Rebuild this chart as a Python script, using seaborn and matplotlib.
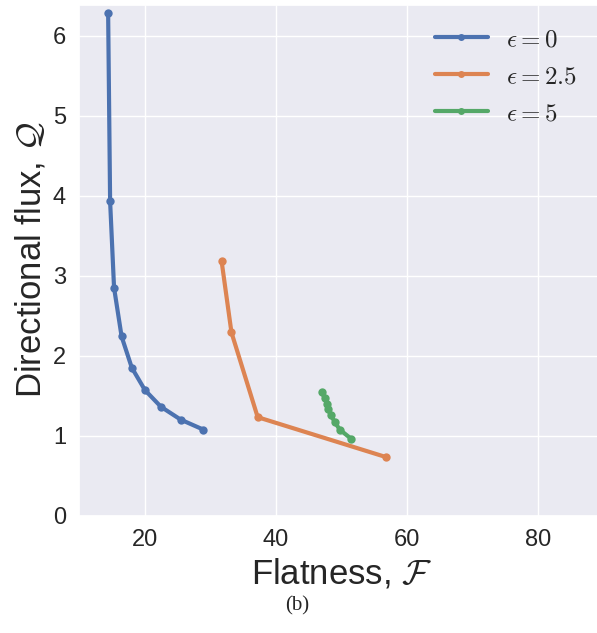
import pandas as pd
import seaborn as sns
import matplotlib
matplotlib.use("Agg")
import matplotlib.pyplot as plt

# values
flat_eps0 = [14.4, 14.7, 15.3, 16.45, 18.0, 20.0, 22.45, 25.45, 28.9]
flux_eps0 = [6.28, 3.93, 2.85, 2.24, 1.85, 1.57, 1.36, 1.20, 1.075]

flat_eps25 = [31.7, 33.2, 37.2, 56.8]
flux_eps25 = [3.18, 2.29, 1.23, 0.73]

flat_eps5 = [47.0, 47.4, 47.7, 47.95, 48.3, 48.95, 49.7, 51.45]
flux_eps5 = [1.54, 1.47, 1.40, 1.33, 1.26, 1.17, 1.075, 0.96]

labels = [r"$\epsilon = 0$", r"$\epsilon = 2.5$", r"$\epsilon = 5$"]
xticks = [20, 40, 60, 80]
yticks = [0, 1, 2, 3, 4, 5, 6]

# long form table for seaborn
d = {"Flatness": [], "Flux": [], "eps": [], "order": []}
for lab, xs, ys in zip(labels, [flat_eps0, flat_eps25, flat_eps5],
                       [flux_eps0, flux_eps25, flux_eps5]):
    for i, (x, y) in enumerate(zip(xs, ys)):
        d["Flatness"].append(x)
        d["Flux"].append(y)
        d["eps"].append(lab)
        d["order"].append(i)
df = pd.DataFrame(d)

sns.set_theme(style="darkgrid")
plt.rcParams["font.family"] = ["Liberation Sans", "DejaVu Sans"]
plt.rcParams["mathtext.fontset"] = "cm"

fig = plt.figure(figsize=(5.97, 6.33), dpi=100)
ax = fig.add_axes([0.1328, 0.1856, 0.879, 0.807])

sns.lineplot(
    data=df, x="Flatness", y="Flux", hue="eps", hue_order=labels,
    sort=False, estimator=None, marker="o", markersize=6,
    markeredgewidth=0, linewidth=3, ax=ax,
)

ax.set_xlim(10, 90)
ax.set_ylim(0, 6.39)
ax.set_xticks(xticks)
ax.set_yticks(yticks)
ax.tick_params(labelsize=17)
ax.set_xlabel(r"Flatness, $\mathcal{F}$", fontsize=25)
ax.set_ylabel(r"Directional flux, $\mathcal{Q}$", fontsize=25)

leg = ax.legend(
    loc="upper left", bbox_to_anchor=(0.635, 1.0), frameon=False,
    fontsize=18, handlelength=2.1, labelspacing=0.52, handletextpad=0.75,
)
for line in leg.get_lines():
    line.set_linewidth(3)
    line.set_markersize(5)

fig.text(0.497, 0.043, "(b)", ha="center", va="center",
         fontsize=15, family="Liberation Serif")

plt.savefig("out.png", dpi=100)
